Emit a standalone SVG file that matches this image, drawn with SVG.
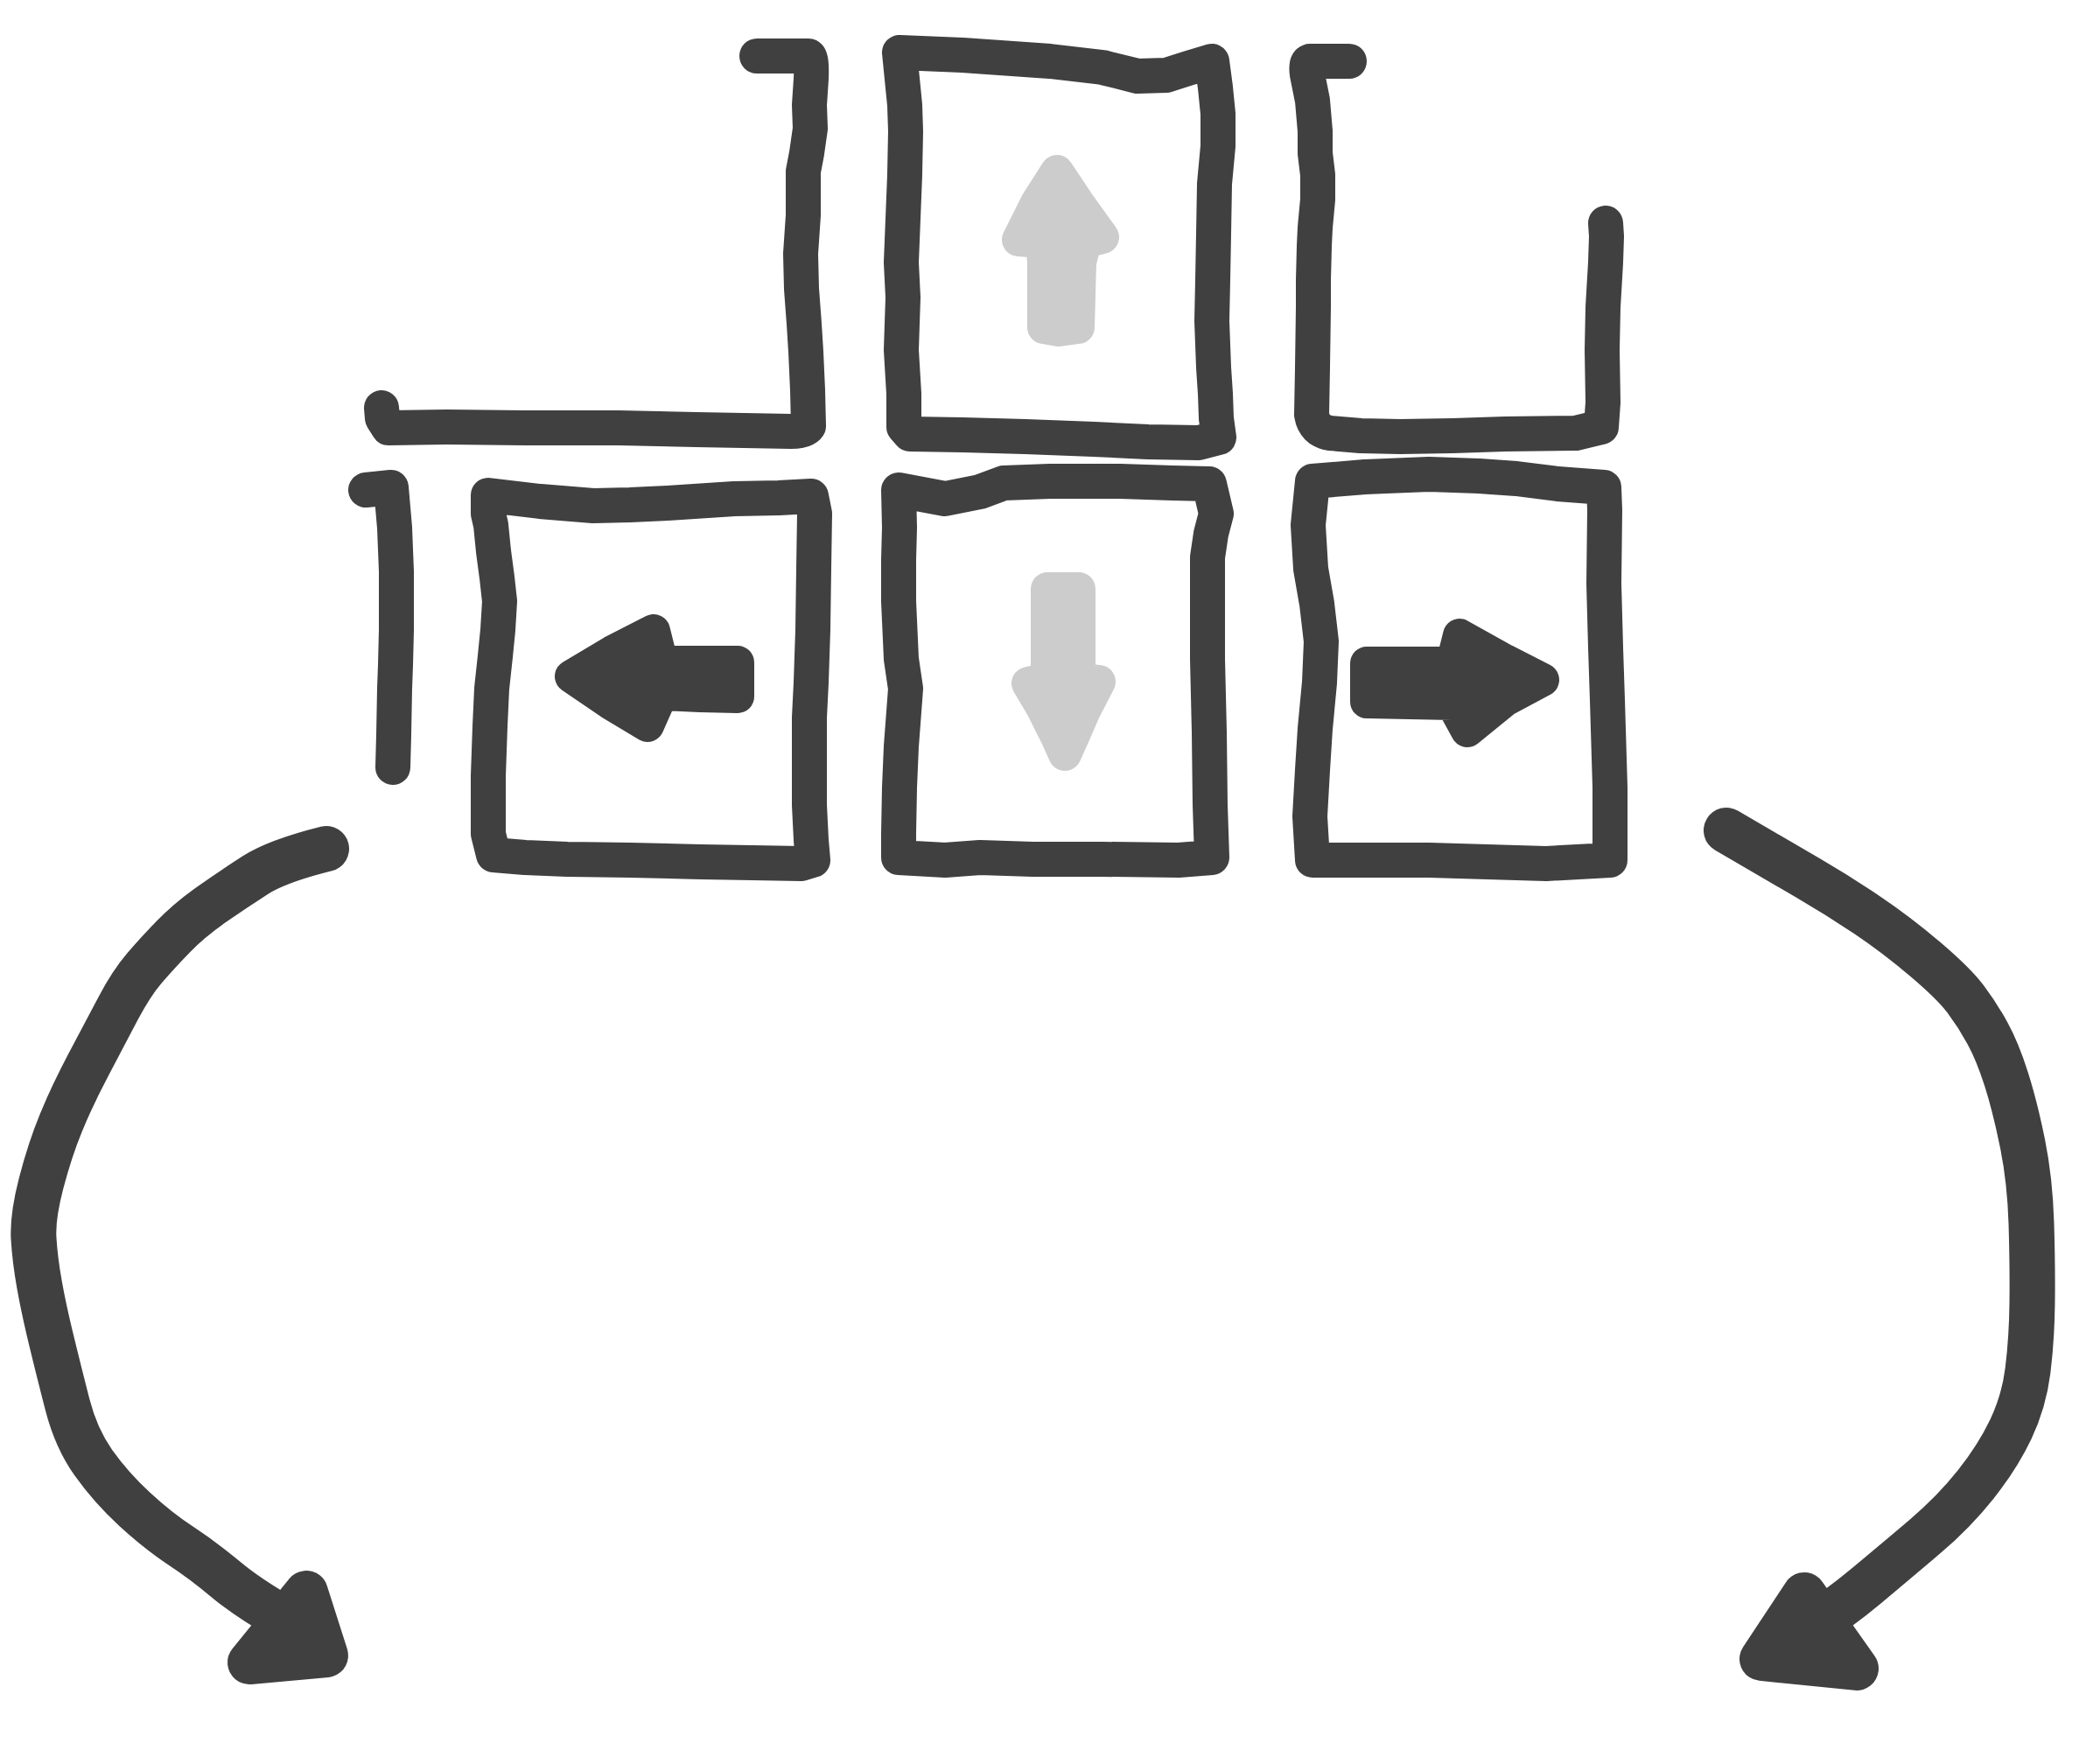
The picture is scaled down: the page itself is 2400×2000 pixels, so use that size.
<svg xmlns="http://www.w3.org/2000/svg" width="2400" height="2000" viewBox="0 0 2400 2000">
<style>
.ink{fill:none;stroke:#404040;stroke-width:40;stroke-linecap:round;stroke-linejoin:round}
.big{fill:none;stroke:#404040;stroke-width:52;stroke-linecap:round;stroke-linejoin:round}
.head{fill:#404040;stroke:#404040;stroke-width:50;stroke-linecap:round;stroke-linejoin:round}
.dark{fill:#404040;stroke:#404040;stroke-width:38;stroke-linecap:round;stroke-linejoin:round}
.light{fill:#cccccc;stroke:#cccccc;stroke-width:38;stroke-linecap:round;stroke-linejoin:round}
</style>
<rect width="2400" height="2000" fill="#ffffff"/>
<g id="bracket-top-left">
<path class="ink" d="M865,64 L924,64 Q928,66 927,90 L925,120 L926,147 L922,175 L918,196 L918,246 L915,290 L916,330 L919,370 L921,402 L923,446 L924,487 Q920,493 904,493 L796,491 L707,489 L600,489 L511,488 L444,489 L437,478 L436,466"/>
</g>
<g id="key-up">
<path class="ink" d="M1028,60 L1100,63 L1200,70 L1260,77 L1300,87 L1333,86 L1358,78 L1385,70 L1389,100 L1392,130 L1392,167 L1388,210 L1387,267 L1386,320 L1385,367 L1387,420 L1389,450 L1390,478 L1393,500 L1370,506 L1312,505 L1250,502 L1172,499 L1100,497 L1040,496 L1033,488 L1033,450 L1030,400 L1032,340 L1030,300 L1032,250 L1034,200 L1035,150 L1034,120 L1030,80 Z"/>
<path class="light" d="M1208,196 L1232,232 L1260,271 L1240,276 L1234,300 L1232,374 L1210,377 L1193,374 L1193,300 L1191,276 L1164,274 L1185,232 Z"/>
</g>
<g id="bracket-top-right">
<path class="ink" d="M1542,70 L1497,70 Q1492,72 1494,85 L1500,115 L1503,150 L1503,175 L1506,200 L1506,228 L1503,260 L1502,281 L1501,320 L1501,351 L1500,420 L1499,474 Q1502,492 1520,495 L1555,498 L1600,499 L1660,498 L1720,496 L1801,495 L1830,488 L1832,460 L1831,400 L1832,351 L1835,300 L1836,270 L1835,255"/>
</g>
<g id="bracket-bottom-left">
<path class="ink" d="M418,560 L447,557 L449,580 L451,603 L453,653 L453,720 L452,760 L451,787 L450,840 L449,877"/>
</g>
<g id="key-left">
<path class="ink" d="M558,566 L617,573 L678,578 L720,577 L763,575 L839,570 L890,569 L927,567 L931,587 L930,650 L929,720 L927,780 L925,820 L925,920 L927,960 L929,983 L916,987 L860,986 L801,985 L720,983 L648,982 L600,980 L564,977 L558,953 L558,887 L560,830 L562,787 L566,750 L569,720 L571,687 L568,660 L564,630 L561,600 L558,587 Z"/>
<path class="dark" d="M653,773 L700,745 L747,721 L756,757 L800,757 L843,757 L843,796 L800,795 L756,793 L740,829 L700,805 Z"/>
</g>
<g id="key-down">
<path class="ink" d="M1027,560 L1080,570 L1120,562 L1147,552 L1200,550 L1280,550 L1340,552 L1382,553 L1390,587 L1384,610 L1380,637 L1380,700 L1380,753 L1382,837 L1383,920 L1385,980 L1347,983 L1260,982 L1180,982 L1120,980 L1080,983 L1027,980 L1027,953 L1028,900 L1030,853 L1035,787 L1030,753 L1027,687 L1027,640 L1028,603 Z"/>
<path class="light" d="M1197,673 L1233,673 L1233,776 L1256,779 L1239,812 L1226,842 L1217,862 L1208,842 L1191,808 L1175,781 L1197,776 Z"/>
</g>
<g id="key-right">
<path class="ink" d="M1500,550 L1560,545 L1633,542 L1690,544 L1733,547 L1780,553 L1833,557 L1834,583 L1833,667 L1835,740 L1837,800 L1840,900 L1840,983 L1767,987 L1700,985 L1633,983 L1560,983 L1500,983 L1497,933 L1500,880 L1503,833 L1508,780 L1510,733 L1505,690 L1498,650 L1495,600 Z"/>
<path class="dark" d="M1562,758 L1660,758 L1668,726 L1720,755 L1763,777 L1720,800 L1677,835 L1660,804 L1562,802 Z"/>
</g>
<g id="connectors">
<path class="big" d="M373,970 Q317,984 292,1000 Q267,1016 242,1033.5 Q217,1051 198.5,1070 Q180,1089 165,1106.5 Q150,1124 135,1152.5 Q120,1181 101.5,1216 Q83,1251 70,1282.5 Q57,1314 47,1352.5 Q37,1391 38.5,1415.5 Q40,1440 45,1468 Q50,1496 58.5,1531 Q67,1566 77,1605 Q87,1644 107,1672 Q127,1700 153.5,1724.5 Q180,1749 206.5,1766.5 Q233,1784 258,1805 Q283,1826 325,1850"/>
<path class="head" d="M350,1820 L373,1892 L285,1900 Z"/>
<path class="big" d="M1973,949 Q2033,984 2066.5,1003.5 Q2100,1023 2133.5,1045.5 Q2167,1068 2200,1096 Q2233,1124 2246.5,1142 Q2260,1160 2271.5,1181 Q2283,1202 2293,1233.5 Q2303,1265 2311.5,1307 Q2320,1349 2321.5,1398 Q2323,1447 2322.5,1489 Q2322,1531 2317.5,1566.5 Q2313,1602 2298,1633.5 Q2283,1665 2258,1696.5 Q2233,1728 2200,1756 Q2167,1784 2133.5,1812 Q2100,1840 2065,1862"/>
<path class="head" d="M2062,1822 L2013,1896 L2122,1907 Z"/>
</g>
</svg>
